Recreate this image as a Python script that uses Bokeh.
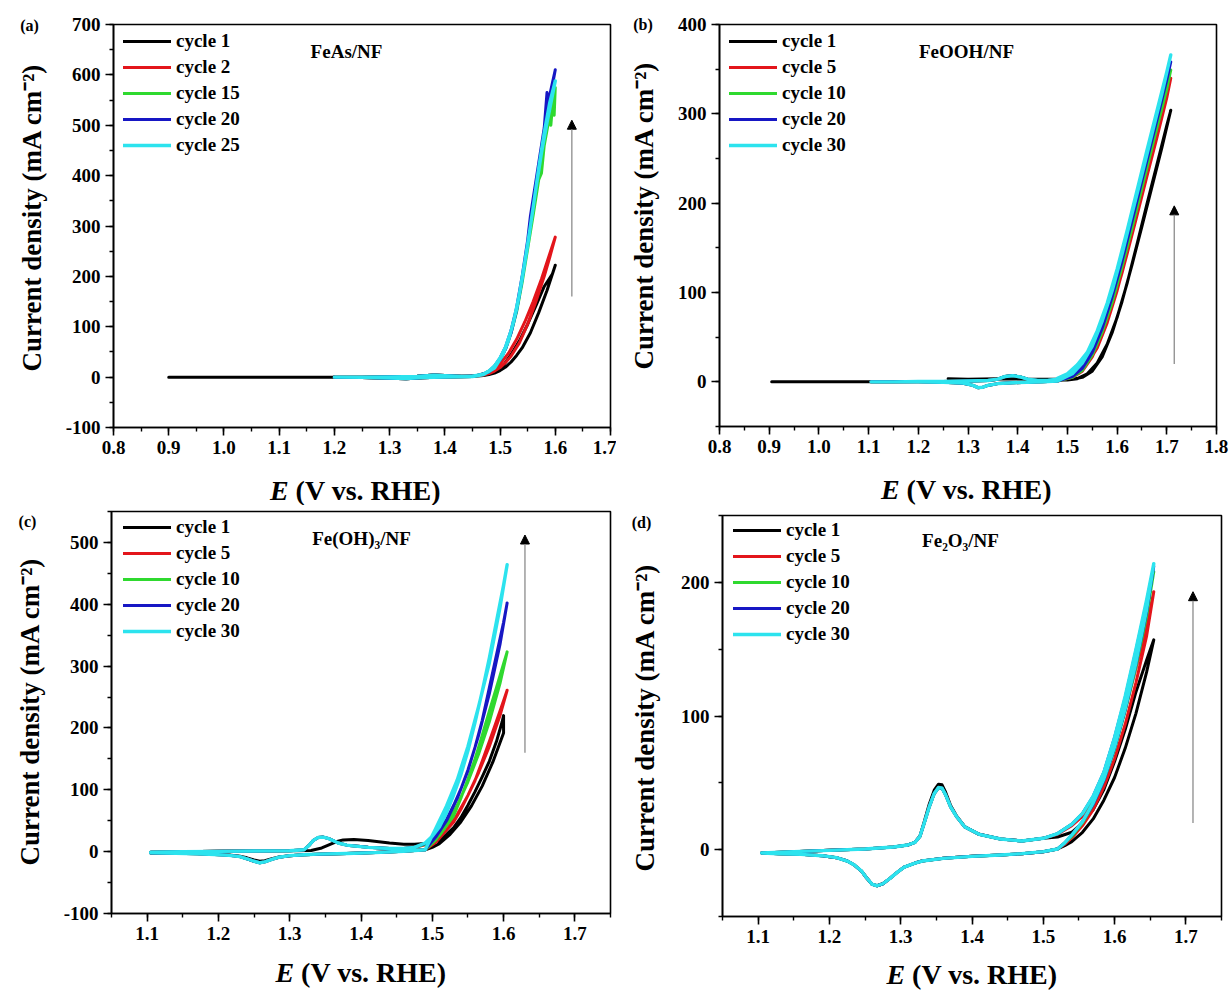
import math
from bokeh.plotting import figure
from bokeh.models import (Range1d, SingleIntervalTicker, PrintfTickFormatter, Legend,
                          LegendItem, Label, Arrow, NormalHead)
from bokeh.layouts import column, row
from bokeh.embed import file_html
from bokeh.resources import INLINE

FONT = "Liberation Serif"
COLORS = ["#000000", "#e3151b", "#2fd92f", "#1717c4", "#2ce3ee"]

# ---------------- (a) FeAs/NF ----------------
A_NAMES = ["cycle 1", "cycle 2", "cycle 15", "cycle 20", "cycle 25"]
A_E_START = [0.90, 1.00, 1.10, 1.20]
A_J_START = [0, 0, 0, 0]
A_E_LOW_FWD = [1.20, 1.25, 1.30, 1.35, 1.38, 1.40, 1.43, 1.45]
A_J_LOW_FWD = [0, 0, 0.5, 1.5, 4, 3, 1.5, 2]
A_E_LOW_BWD = [1.45, 1.40, 1.36, 1.33, 1.30, 1.25, 1.20]
A_J_LOW_BWD = [1, 0, -1, -3, -2, -0.5, 0]
A_E_C1_FWD = [1.45, 1.47, 1.48, 1.49, 1.50, 1.51, 1.52, 1.53, 1.54, 1.555, 1.57, 1.585, 1.60]
A_J_C1_FWD = [2, 3, 5, 8, 13, 20, 30, 43, 58, 88, 128, 172, 222]
A_E_C1_BWD = [1.60, 1.595, 1.58, 1.565, 1.55, 1.535, 1.52, 1.505, 1.49, 1.47, 1.45]
A_J_C1_BWD = [222, 205, 180, 142, 105, 72, 45, 22, 9, 3, 1]
A_E_C2_FWD = [1.45, 1.47, 1.48, 1.49, 1.50, 1.51, 1.52, 1.535, 1.55, 1.565, 1.58, 1.59, 1.60]
A_J_C2_FWD = [2, 4, 7, 12, 19, 29, 42, 68, 105, 150, 200, 238, 278]
A_E_C2_BWD = [1.60, 1.59, 1.575, 1.56, 1.545, 1.53, 1.515, 1.50, 1.485, 1.47, 1.45]
A_J_C2_BWD = [278, 245, 195, 150, 110, 75, 47, 26, 12, 5, 2]
A_E_C15_FWD = [1.45, 1.47, 1.48, 1.49, 1.50, 1.51, 1.52, 1.53, 1.54, 1.55, 1.56, 1.57,
               1.575, 1.58, 1.585, 1.59, 1.592, 1.595, 1.598, 1.60]
A_J_C15_FWD = [2, 6, 12, 21, 36, 57, 88, 130, 188, 255, 322, 392, 405, 460, 490, 520, 500,
               540, 520, 575]
A_E_C15_BWD = [1.60, 1.595, 1.59, 1.58, 1.57, 1.56, 1.55, 1.54, 1.53, 1.52, 1.51, 1.50, 1.48, 1.45]
A_J_C15_BWD = [575, 530, 515, 470, 400, 330, 258, 190, 132, 88, 56, 34, 10, 1]
A_E_C20_FWD = [1.45, 1.47, 1.48, 1.49, 1.50, 1.51, 1.52, 1.53, 1.54, 1.55, 1.555, 1.56, 1.565,
               1.57, 1.58, 1.585, 1.588, 1.59, 1.595, 1.60]
A_J_C20_FWD = [2, 6, 12, 22, 38, 60, 93, 138, 200, 272, 320, 355, 390, 425, 495, 565, 540,
               560, 585, 610]
A_E_C20_BWD = [1.60, 1.59, 1.58, 1.57, 1.56, 1.55, 1.54, 1.53, 1.52, 1.51, 1.50, 1.48, 1.45]
A_J_C20_BWD = [610, 550, 488, 418, 345, 268, 195, 133, 88, 56, 34, 10, 1]
A_E_C25_FWD = [1.45, 1.47, 1.48, 1.49, 1.50, 1.51, 1.52, 1.53, 1.54, 1.55, 1.56, 1.57, 1.58,
               1.59, 1.60]
A_J_C25_FWD = [2, 6, 12, 22, 38, 60, 92, 135, 195, 262, 337, 415, 485, 545, 588]
A_E_C25_BWD = [1.60, 1.595, 1.585, 1.575, 1.565, 1.555, 1.545, 1.535, 1.525, 1.515, 1.505,
               1.49, 1.47, 1.45]
A_J_C25_BWD = [588, 560, 505, 445, 375, 300, 230, 165, 112, 72, 44, 18, 5, 1]

# ---------------- (b) FeOOH/NF ----------------
B_NAMES = ["cycle 1", "cycle 5", "cycle 10", "cycle 20", "cycle 30"]
B_E_START = [0.905, 1.00, 1.105]
B_J_START = [0, 0, 0]
B_E_LOW_FWD = [1.105, 1.15, 1.20, 1.25, 1.30, 1.34, 1.36, 1.375, 1.39, 1.405, 1.42, 1.44, 1.46, 1.48]
B_J_LOW_FWD = [0, 0, 0.5, 0.5, 1, 1.5, 3, 6, 7, 5.5, 3, 1.5, 1.5, 3]
B_E_LOW_BWD = [1.48, 1.45, 1.42, 1.39, 1.36, 1.34, 1.33, 1.32, 1.31, 1.29, 1.25, 1.20, 1.15, 1.105]
B_J_LOW_BWD = [1, 0, -0.5, -1, -2, -4, -6, -6.5, -4, -1.5, -0.5, 0, 0, 0]
B_E_C1_TAIL = [1.48, 1.42, 1.36, 1.30, 1.26]
B_J_C1_TAIL = [3, 3, 3.5, 3, 3.5]
B_E_FWD = [1.48, 1.50, 1.52, 1.54, 1.56, 1.58, 1.60, 1.62, 1.64, 1.66, 1.68, 1.70, 1.708]
B_J_C1_FWD = [2, 2, 3.5, 9, 21, 42, 72, 110, 154, 199, 243, 287, 304]
B_J_C5_FWD = [3, 5, 10, 20, 38, 66, 102, 143, 186, 230, 273, 318, 340]
B_J_C10_FWD = [3, 5, 11, 23, 43, 73, 110, 152, 196, 240, 284, 328, 349]
B_J_C20_FWD = [3, 6, 12, 25, 47, 80, 117, 160, 204, 248, 293, 338, 358]
B_J_C30_FWD = [4, 9, 19, 33, 57, 88, 126, 169, 214, 259, 303, 347, 366]
B_E_BWD = [1.708, 1.69, 1.67, 1.65, 1.63, 1.61, 1.59, 1.57, 1.55, 1.53, 1.51, 1.48]
B_J_C1_BWD = [304, 262, 218, 174, 131, 90, 55, 28, 12, 5, 3, 3]
B_J_C5_BWD = [340, 298, 254, 209, 165, 122, 84, 52, 28, 12, 5, 1]
B_J_C10_BWD = [349, 306, 262, 217, 172, 129, 89, 56, 30, 13, 5, 1]
B_J_C20_BWD = [358, 315, 270, 225, 180, 135, 95, 60, 33, 15, 6, 1]
B_J_C30_BWD = [366, 322, 277, 232, 188, 143, 102, 68, 40, 21, 9, 1]

# ---------------- (c) Fe(OH)3/NF ----------------
C_NAMES = ["cycle 1", "cycle 5", "cycle 10", "cycle 20", "cycle 30"]
C_E_LOW_FWD = [1.105, 1.15, 1.20, 1.25, 1.30, 1.32, 1.327, 1.333, 1.34, 1.347, 1.355, 1.368,
               1.38, 1.392, 1.41, 1.44, 1.46, 1.475]
C_J_LOW_FWD = [-1, 0, 0.5, 1, 1.5, 3, 10, 18, 23, 23.5, 21, 14, 10.5, 9, 7, 5, 5, 7]
C_E_C1_LOW_FWD = [1.105, 1.15, 1.20, 1.25, 1.30, 1.33, 1.345, 1.355, 1.365, 1.375, 1.39, 1.41,
                  1.44, 1.46, 1.475]
C_J_C1_LOW_FWD = [-1, 0, 0.5, 1, 1.5, 2, 6, 11, 16, 19, 19.5, 18, 14, 12, 12]
C_E_LOW_BWD = [1.49, 1.46, 1.42, 1.38, 1.34, 1.32, 1.30, 1.285, 1.275, 1.265, 1.258, 1.25, 1.24,
               1.23, 1.215, 1.195, 1.17, 1.14, 1.105]
C_J_LOW_BWD = [3, 0.5, -1.5, -3, -4, -5, -6.5, -9, -12.5, -16.5, -18, -15.5, -11.5, -8, -6,
               -4.5, -3.5, -2.5, -2]
C_J_C1_LOW_BWD = [3, 0.5, -1.5, -3, -4, -5, -6.5, -8.5, -11.5, -14.5, -15.5, -13.5, -10, -7.5,
                  -5.5, -4, -3, -2.5, -2]
C_E_FWD = [1.475, 1.49, 1.50, 1.51, 1.52, 1.53, 1.54, 1.55, 1.56, 1.57, 1.58, 1.59, 1.60, 1.605]
C_J_C5_FWD = [7, 11, 16, 23, 35, 48, 68, 91, 115, 146, 178, 211, 244, 261]
C_J_C10_FWD = [7, 12, 18, 26, 42, 58, 86, 117, 150, 188, 227, 265, 304, 323]
C_J_C20_FWD = [7, 13, 22, 34, 52, 75, 101, 132, 169, 212, 265, 318, 371, 402]
C_J_C30_FWD = [7, 14, 25, 40, 63, 92, 124, 163, 209, 259, 313, 372, 431, 464]
C_E_C1_FWD = [1.475, 1.49, 1.50, 1.51, 1.52, 1.53, 1.54, 1.55, 1.56, 1.57, 1.58, 1.59, 1.598, 1.60]
C_J_C1_FWD = [12, 13, 15, 18, 28, 39, 55, 75, 97, 121, 146, 178, 210, 220]
C_E_BWD = [1.605, 1.595, 1.58, 1.565, 1.55, 1.535, 1.52, 1.505, 1.49]
C_J_C5_BWD = [261, 220, 170, 128, 91, 60, 35, 15, 3]
C_J_C10_BWD = [323, 272, 210, 158, 113, 75, 44, 19, 3]
C_J_C20_BWD = [402, 335, 255, 188, 131, 86, 50, 24, 3]
C_J_C30_BWD = [464, 395, 305, 235, 170, 116, 74, 38, 3]
C_E_C1_BWD = [1.60, 1.60, 1.585, 1.57, 1.555, 1.54, 1.525, 1.51, 1.50, 1.49]
C_J_C1_BWD = [220, 192, 145, 106, 74, 48, 28, 13, 7, 3]

# ---------------- (d) Fe2O3/NF ----------------
D_NAMES = ["cycle 1", "cycle 5", "cycle 10", "cycle 20", "cycle 30"]
D_E_LOW_FWD = [1.105, 1.15, 1.20, 1.25, 1.29, 1.31, 1.32, 1.327, 1.333, 1.34, 1.347, 1.353,
               1.358, 1.363, 1.37, 1.378, 1.39, 1.41, 1.44, 1.47, 1.50]
D_J_LOW_FWD = [-2.5, -1.5, -0.5, 0.5, 2, 3.5, 5.5, 10, 20, 32, 42, 46.5, 46, 41, 32, 25, 17,
               11.5, 8, 6.5, 8.5]
D_J_C1_LOW_FWD = [-2.5, -1.5, -0.5, 0.5, 2, 3.5, 5.5, 10, 21, 34, 44.5, 49, 48.5, 43, 33, 25.5,
                  17, 11.5, 8, 6.5, 8.5]
D_E_LOW_BWD = [1.52, 1.50, 1.47, 1.44, 1.40, 1.36, 1.33, 1.32, 1.305, 1.295, 1.285, 1.275,
               1.267, 1.26, 1.252, 1.245, 1.235, 1.225, 1.21, 1.19, 1.16, 1.13, 1.105]
D_J_LOW_BWD = [0.5, -1.5, -3, -4, -5, -6.5, -8.5, -10, -13, -17, -21.5, -25.5, -27, -26, -21,
               -16, -11.5, -8.5, -6, -4.5, -3.5, -3, -2.5]
D_E_FWD = [1.50, 1.52, 1.54, 1.555, 1.57, 1.585, 1.60, 1.615, 1.63, 1.645, 1.655]
D_J_C1_FWD = [8.5, 9.5, 13, 20, 30, 45, 66, 90, 118, 142, 157]
D_J_C5_FWD = [8.5, 11.5, 18, 25, 37, 54, 78, 105, 136, 168, 193]
D_J_C10_FWD = [8.5, 12, 19, 27, 39, 57, 82, 112, 146, 181, 208]
D_J_C20_FWD = [8.5, 12, 19, 27, 40, 58, 84, 114, 149, 185, 212]
D_J_C30_FWD = [8.5, 12, 19, 27, 40, 58, 84, 115, 150, 187, 214]
D_E_BWD = [1.655, 1.645, 1.63, 1.615, 1.60, 1.585, 1.57, 1.555, 1.54, 1.53, 1.52]
D_J_C1_BWD = [157, 133, 102, 76, 54, 37, 23, 13, 6, 3, 0.5]
D_J_C5_BWD = [193, 160, 125, 94, 68, 47, 30, 18, 9, 4, 0.5]
D_J_C10_BWD = [208, 175, 137, 104, 75, 52, 34, 20, 10, 5, 0.5]
D_J_C20_BWD = [212, 178, 139, 105, 76, 52, 34, 21, 11, 5, 0.5]
D_J_C30_BWD = [214, 180, 140, 106, 77, 53, 35, 21, 11, 5, 0.5]

# ---------------- panel-level texts and annotations ----------------
SAMPLES = ["FeAs/NF", "FeOOH/NF", "Fe(OH)\u2083/NF", "Fe\u2082O\u2083/NF"]
LETTERS = ["(a)", "(b)", "(c)", "(d)"]
Y_TITLE = "Current density (mA cm\u207b\u00b2)"
X_TITLE_E = "E"
X_TITLE_REST = "(V vs. RHE)"
X_RANGES = [(0.8, 1.7), (0.8, 1.8), (1.05, 1.75), (1.05, 1.75)]
Y_RANGES = [(-100, 700), (-50, 400), (-100, 550), (-50, 250)]
ARROW_X = [1.63, 1.715, 1.63, 1.71]
ARROW_Y0 = [160, 20, 160, 20]
ARROW_Y1 = [510, 197, 512, 193]


def cat(*parts):
    out = []
    for p in parts:
        out.extend(p)
    return out


A_CURVES = [
    (cat(A_E_START, A_E_LOW_FWD, A_E_C1_FWD, A_E_C1_BWD, A_E_LOW_BWD),
     cat(A_J_START, A_J_LOW_FWD, A_J_C1_FWD, A_J_C1_BWD, A_J_LOW_BWD)),
    (cat(A_E_LOW_FWD, A_E_C2_FWD, A_E_C2_BWD, A_E_LOW_BWD),
     cat(A_J_LOW_FWD, A_J_C2_FWD, A_J_C2_BWD, A_J_LOW_BWD)),
    (cat(A_E_LOW_FWD, A_E_C15_FWD, A_E_C15_BWD, A_E_LOW_BWD),
     cat(A_J_LOW_FWD, A_J_C15_FWD, A_J_C15_BWD, A_J_LOW_BWD)),
    (cat(A_E_LOW_FWD, A_E_C20_FWD, A_E_C20_BWD, A_E_LOW_BWD),
     cat(A_J_LOW_FWD, A_J_C20_FWD, A_J_C20_BWD, A_J_LOW_BWD)),
    (cat(A_E_LOW_FWD, A_E_C25_FWD, A_E_C25_BWD, A_E_LOW_BWD),
     cat(A_J_LOW_FWD, A_J_C25_FWD, A_J_C25_BWD, A_J_LOW_BWD)),
]
B_CURVES = [
    (cat(B_E_START, B_E_LOW_FWD, B_E_FWD, B_E_BWD, B_E_C1_TAIL),
     cat(B_J_START, B_J_LOW_FWD, B_J_C1_FWD, B_J_C1_BWD, B_J_C1_TAIL)),
] + [
    (cat(B_E_LOW_FWD, B_E_FWD, B_E_BWD, B_E_LOW_BWD),
     cat(B_J_LOW_FWD, jf, jb, B_J_LOW_BWD))
    for jf, jb in [(B_J_C5_FWD, B_J_C5_BWD), (B_J_C10_FWD, B_J_C10_BWD),
                   (B_J_C20_FWD, B_J_C20_BWD), (B_J_C30_FWD, B_J_C30_BWD)]
]
C_CURVES = [
    (cat(C_E_C1_LOW_FWD, C_E_C1_FWD, C_E_C1_BWD, C_E_LOW_BWD),
     cat(C_J_C1_LOW_FWD, C_J_C1_FWD, C_J_C1_BWD, C_J_C1_LOW_BWD)),
] + [
    (cat(C_E_LOW_FWD, C_E_FWD, C_E_BWD, C_E_LOW_BWD),
     cat(C_J_LOW_FWD, jf, jb, C_J_LOW_BWD))
    for jf, jb in [(C_J_C5_FWD, C_J_C5_BWD), (C_J_C10_FWD, C_J_C10_BWD),
                   (C_J_C20_FWD, C_J_C20_BWD), (C_J_C30_FWD, C_J_C30_BWD)]
]
D_CURVES = [
    (cat(D_E_LOW_FWD, D_E_FWD, D_E_BWD, D_E_LOW_BWD),
     cat(D_J_C1_LOW_FWD, D_J_C1_FWD, D_J_C1_BWD, D_J_LOW_BWD)),
] + [
    (cat(D_E_LOW_FWD, D_E_FWD, D_E_BWD, D_E_LOW_BWD),
     cat(D_J_LOW_FWD, jf, jb, D_J_LOW_BWD))
    for jf, jb in [(D_J_C5_FWD, D_J_C5_BWD), (D_J_C10_FWD, D_J_C10_BWD),
                   (D_J_C20_FWD, D_J_C20_BWD), (D_J_C30_FWD, D_J_C30_BWD)]
]

# ---------------- layout in pixels (page origin at top-left) ----------------
PANEL_W = 616
ROW_HEIGHTS = [505, 486]
STRIP_W = [60, 56, 60, 56]           # left strip: rotated y title + panel letter
MAIN_H = [464, 463, 445, 448]
MAIN_BORDERS = [(53, 6, 24, 37), (47, 16, 24, 37), (51, 6, 6, 37), (50, 11, 10, 37)]
LEGEND_OFF = [(10, 4), (10, 4), (12, 3), (11, 2)]
SAMPLE_POS = [(233, 376), (247, 375), (250, 375), (238, 376)]
LETTER_POS = [(29, 25), (26.5, 24), (27, 16), (25, 17)]       # centre, from panel top-left
YTITLE_POS = [(31, 371), (27.5, 369), (29.5, 360), (28.5, 366)]  # start of text (bottom)
XTITLE_POS = [(355, 26), (350, 26), (360.5, 22), (355.5, 21)]    # centre, from panel left / strip top
X_FONT_PX = 28
ROW_H = 26
EPS = 1e-6   # lets the end ticks (e.g. 1.7) survive floating-point rounding


def strip(w, h):
    s = figure(width=w, height=h, output_backend="svg", toolbar_location=None,
               x_range=Range1d(0, w), y_range=Range1d(0, h),
               x_axis_location=None, y_axis_location=None,
               min_border_left=0, min_border_right=0, min_border_top=0, min_border_bottom=0)
    s.grid.visible = False
    s.outline_line_color = None
    s.background_fill_color = "white"
    s.border_fill_color = "white"
    return s


def make_panel(i, curves, names, row_h):
    L, R, T, B = MAIN_BORDERS[i]
    H = MAIN_H[i]
    SW = STRIP_W[i]
    x0r, x1r = X_RANGES[i]
    y0r, y1r = Y_RANGES[i]
    p = figure(width=PANEL_W - SW, height=H, output_backend="svg", toolbar_location=None,
               x_range=Range1d(x0r - EPS, x1r + EPS), y_range=Range1d(y0r, y1r),
               min_border_left=L, min_border_right=R, min_border_top=T, min_border_bottom=B)
    p.background_fill_color = "white"
    p.border_fill_color = "white"
    p.grid.visible = False
    p.outline_line_color = "black"
    p.outline_line_width = 1.6
    p.xaxis.ticker = SingleIntervalTicker(interval=0.1, num_minor_ticks=2)
    p.yaxis.ticker = SingleIntervalTicker(interval=100, num_minor_ticks=2)
    p.xaxis.formatter = PrintfTickFormatter(format="%.1f")
    p.yaxis.formatter = PrintfTickFormatter(format="%d")
    for ax in (p.xaxis[0], p.yaxis[0]):
        ax.axis_line_color = "black"
        ax.axis_line_width = 1.6
        ax.major_tick_line_color = "black"
        ax.major_tick_line_width = 1.6
        ax.minor_tick_line_color = "black"
        ax.minor_tick_line_width = 1.4
        ax.major_tick_out = 8
        ax.major_tick_in = 0
        ax.minor_tick_out = 4
        ax.minor_tick_in = 0
        ax.major_label_standoff = 5
        ax.major_label_text_font = FONT
        ax.major_label_text_font_style = "bold"
        ax.major_label_text_font_size = "19px"
        ax.major_label_text_color = "black"

    items = []
    for k, ((xs, ys), name) in enumerate(zip(curves, names)):
        r = p.line(xs, ys, line_color=COLORS[k], line_width=3.4 if k == 4 else 3.0,
                   line_join="round", line_cap="round")
        items.append(LegendItem(label=name, renderers=[r]))

    frame_h = H - T - B
    ox, oy = LEGEND_OFF[i]
    n = len(items)
    legend = Legend(items=items, location=(ox, frame_h - oy - n * ROW_H),
                    glyph_width=48, glyph_height=ROW_H, label_height=ROW_H, spacing=0,
                    padding=0, margin=0, label_standoff=5,
                    label_text_font=FONT, label_text_font_style="bold",
                    label_text_font_size="19px", label_text_color="black",
                    background_fill_alpha=0, border_line_alpha=0)
    p.add_layout(legend)

    p.add_layout(Arrow(end=NormalHead(size=9, fill_color="black", line_color="black", line_width=1),
                       x_start=ARROW_X[i], y_start=ARROW_Y0[i], x_end=ARROW_X[i], y_end=ARROW_Y1[i],
                       line_color="#8c8c8c", line_width=1.3))

    sx, sy = SAMPLE_POS[i]
    p.add_layout(Label(x=sx, y=sy, x_units="screen", y_units="screen", text=SAMPLES[i],
                       text_font=FONT, text_font_style="bold", text_font_size="19px",
                       text_align="center", text_baseline="middle", text_color="black"))

    # left strip: rotated y title + panel letter
    left = strip(SW, H)
    lx, ly = LETTER_POS[i]
    left.add_layout(Label(x=lx, y=H - ly, text=LETTERS[i],
                          text_font=FONT, text_font_style="bold", text_font_size="16px",
                          text_align="center", text_baseline="middle", text_color="black"))
    yx, yy = YTITLE_POS[i]
    left.add_layout(Label(x=yx, y=H - yy, text=Y_TITLE, angle=math.pi / 2,
                          text_font=FONT, text_font_style="bold", text_font_size="27px",
                          text_align="left", text_baseline="middle", text_color="black"))

    # bottom strip: x title with italic E
    bh = row_h - H
    bottom = strip(PANEL_W, bh)
    cx, cy = XTITLE_POS[i]
    e_w = 0.667 * X_FONT_PX
    gap = 0.25 * X_FONT_PX
    total = e_w + gap + 5.194 * X_FONT_PX
    x0 = cx - total / 2
    bottom.add_layout(Label(x=x0, y=bh - cy, text=X_TITLE_E,
                            text_font=FONT, text_font_style="bold italic",
                            text_font_size=f"{X_FONT_PX}px",
                            text_align="left", text_baseline="middle", text_color="black"))
    bottom.add_layout(Label(x=x0 + e_w + gap, y=bh - cy, text=X_TITLE_REST,
                            text_font=FONT, text_font_style="bold",
                            text_font_size=f"{X_FONT_PX}px",
                            text_align="left", text_baseline="middle", text_color="black"))
    # wrap each figure in its own column so that Bokeh does not align their frames
    return column(row(column(left), column(p)), bottom)


pa = make_panel(0, A_CURVES, A_NAMES, ROW_HEIGHTS[0])
pb = make_panel(1, B_CURVES, B_NAMES, ROW_HEIGHTS[0])
pc = make_panel(2, C_CURVES, C_NAMES, ROW_HEIGHTS[1])
pd = make_panel(3, D_CURVES, D_NAMES, ROW_HEIGHTS[1])

layout = column(row(pa, pb), row(pc, pd))
open("out.html", "w").write(file_html(layout, INLINE))
